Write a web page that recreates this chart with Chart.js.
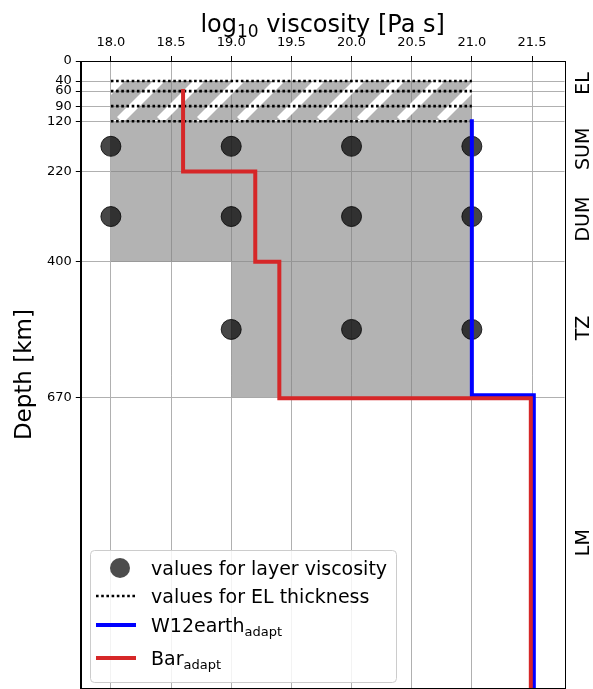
<!DOCTYPE html>
<html>
<head>
<meta charset="utf-8">
<title>Viscosity profile</title>
<script src="https://cdn.jsdelivr.net/npm/chart.js@4.4.1/dist/chart.umd.min.js"></script>
<style>
  html, body { margin: 0; padding: 0; background: #fff; overflow: hidden; }
  canvas { display: block; }
</style>
</head>
<body>
<canvas id="viscChart" width="593" height="700"></canvas>
<script>
// tick labels
const xTicks = [18.0, 18.5, 19.0, 19.5, 20.0, 20.5, 21.0, 21.5];
const yTicks = [0, 40, 60, 90, 120, 220, 400, 670];

// layer names and the depth where each name sits
const layerNames = ['EL', 'SUM', 'DUM', 'TZ', 'LM'];
const layerLabelDepth = [45, 175, 315, 532, 960];

// tested layer viscosities (dots) per layer
const sumVisc = [18, 19, 20, 21];
const dumVisc = [18, 19, 20, 21];
const tzVisc = [19, 20, 21];
const dotDepth = [170, 310, 535];

// tested EL thickness values
const elThickness = [40, 60, 90, 120];

// shaded parameter ranges
const umViscRange = [18, 21];
const umDepthRange = [40, 400];
const tzViscRange = [19, 21];
const tzDepthRange = [400, 670];

// W12earth_adapt step profile
const w12Visc = [21.0, 21.515];
const w12Depth = [120, 666, 1250];

// Bar_adapt step profile
const barVisc = [18.6, 19.2, 19.4, 21.49];
const barDepth = [60, 220, 400, 672, 1250];

const FONT = "'DejaVu Sans', 'Liberation Sans', sans-serif";
Chart.defaults.font.family = FONT;
Chart.defaults.color = '#000';

function steps(visc, depth) {
    const pts = [];
    visc.forEach((v, i) => {
        pts.push({ x: v, y: depth[i] });
        pts.push({ x: v, y: depth[i + 1] });
    });
    return pts;
}

// white "/" hatch
const tile = document.createElement('canvas');
tile.width = 40;
tile.height = 40;
const tctx = tile.getContext('2d');
tctx.strokeStyle = '#ffffff';
tctx.lineWidth = 8.5;
[-40, 0, 40].forEach(x0 => {
    tctx.beginPath();
    tctx.moveTo(x0, 40);
    tctx.lineTo(x0 + 40, 0);
    tctx.stroke();
});
const hatch = tctx.createPattern(tile, 'repeat');

const GREY = 'rgba(128,128,128,0.6)';
const BLUE = '#0000ff';
const RED = '#d62728';

const datasets = [];

// shaded boxes
datasets.push({
    data: [{ x: umViscRange[0], y: umDepthRange[0] }, { x: umViscRange[1], y: umDepthRange[0] }],
    fill: { value: umDepthRange[1] }, backgroundColor: GREY, borderWidth: 0, pointRadius: 0, order: 20
});
datasets.push({
    data: [{ x: tzViscRange[0], y: tzDepthRange[0] }, { x: tzViscRange[1], y: tzDepthRange[0] }],
    fill: { value: tzDepthRange[1] }, backgroundColor: GREY, borderWidth: 0, pointRadius: 0, order: 20
});
datasets.push({
    data: [{ x: umViscRange[0], y: elThickness[0] }, { x: umViscRange[1], y: elThickness[0] }],
    fill: { value: elThickness[elThickness.length - 1] }, backgroundColor: hatch, borderWidth: 0, pointRadius: 0, order: 19
});

// dotted EL thickness lines
elThickness.forEach(d => {
    datasets.push({
        data: [{ x: umViscRange[0], y: d }, { x: umViscRange[1], y: d }],
        borderColor: '#000', borderWidth: 2.6, borderDash: [2.6, 2.6], borderCapStyle: 'butt',
        pointRadius: 0, fill: false, order: 18
    });
});

// viscosity dots
const dots = [];
sumVisc.forEach(v => dots.push({ x: v, y: dotDepth[0] }));
dumVisc.forEach(v => dots.push({ x: v, y: dotDepth[1] }));
tzVisc.forEach(v => dots.push({ x: v, y: dotDepth[2] }));
datasets.push({
    data: dots, showLine: false, pointRadius: 10,
    pointBackgroundColor: 'rgba(0,0,0,0.72)', pointBorderColor: 'rgba(0,0,0,0.8)', pointBorderWidth: 1,
    order: 15
});

// profiles
datasets.push({
    data: steps(w12Visc, w12Depth), borderColor: BLUE, borderWidth: 4,
    borderCapStyle: 'square', borderJoinStyle: 'miter', pointRadius: 0, fill: false, order: 12
});
datasets.push({
    data: steps(barVisc, barDepth), borderColor: RED, borderWidth: 4,
    borderCapStyle: 'square', borderJoinStyle: 'miter', pointRadius: 0, fill: false, order: 10
});

function subText(ctx, parts, x, y, size) {
    // parts: [text, isSub]
    let cx = x;
    parts.forEach(([t, sub]) => {
        ctx.font = (sub ? Math.round(size * 0.7) : size) + 'px ' + FONT;
        ctx.fillText(t, cx, sub ? y + size * 0.22 : y);
        cx += ctx.measureText(t).width;
    });
}

function partsWidth(ctx, parts, size) {
    let w = 0;
    parts.forEach(([t, sub]) => {
        ctx.font = (sub ? Math.round(size * 0.7) : size) + 'px ' + FONT;
        w += ctx.measureText(t).width;
    });
    return w;
}

const decorations = {
    id: 'decorations',
    afterDraw(chart) {
        const ctx = chart.ctx;
        const a = chart.chartArea;
        const ys = chart.scales.y;
        ctx.save();

        // frame
        ctx.strokeStyle = '#000';
        ctx.lineWidth = 1;
        ctx.strokeRect(Math.round(a.left) + 0.5, Math.round(a.top) + 0.5,
            Math.round(a.right) - Math.round(a.left), Math.round(a.bottom) - Math.round(a.top));

        ctx.fillStyle = '#000';
        ctx.textBaseline = 'alphabetic';
        ctx.textAlign = 'left';

        // x title
        const tparts = [['log', false], ['10', true], [' viscosity [Pa s]', false]];
        const tw = partsWidth(ctx, tparts, 24);
        subText(ctx, tparts, (a.left + a.right) / 2 - tw / 2, 32, 24);

        // y title
        ctx.save();
        ctx.translate(25, (a.top + a.bottom) / 2);
        ctx.rotate(-Math.PI / 2);
        ctx.font = '23px ' + FONT;
        ctx.textAlign = 'center';
        ctx.textBaseline = 'middle';
        ctx.fillText('Depth [km]', 0, 0);
        ctx.restore();

        // layer names on the right
        layerNames.forEach((name, i) => {
            ctx.save();
            ctx.translate(584, ys.getPixelForValue(layerLabelDepth[i]));
            ctx.rotate(-Math.PI / 2);
            ctx.font = '19px ' + FONT;
            ctx.textAlign = 'center';
            ctx.textBaseline = 'middle';
            ctx.fillText(name, 0, 0);
            ctx.restore();
        });

        // legend
        const bx = 90.5, by = 550.5, bw = 306, bh = 132;
        ctx.beginPath();
        ctx.roundRect(bx, by, bw, bh, 4);
        ctx.fillStyle = 'rgba(255,255,255,0.85)';
        ctx.fill();
        ctx.strokeStyle = '#cccccc';
        ctx.stroke();

        const tx = 151;
        ctx.fillStyle = 'rgba(0,0,0,0.7)';
        ctx.beginPath();
        ctx.arc(120, 568, 10, 0, Math.PI * 2);
        ctx.fill();

        ctx.strokeStyle = '#000';
        ctx.lineWidth = 2.6;
        ctx.setLineDash([2.6, 2.6]);
        ctx.beginPath();
        ctx.moveTo(96, 596);
        ctx.lineTo(135, 596);
        ctx.stroke();
        ctx.setLineDash([]);

        ctx.lineWidth = 4;
        ctx.strokeStyle = BLUE;
        ctx.beginPath();
        ctx.moveTo(96, 625);
        ctx.lineTo(136, 625);
        ctx.stroke();
        ctx.strokeStyle = RED;
        ctx.beginPath();
        ctx.moveTo(96, 658);
        ctx.lineTo(136, 658);
        ctx.stroke();

        ctx.fillStyle = '#000';
        ctx.textBaseline = 'alphabetic';
        ctx.font = '19px ' + FONT;
        ctx.fillText('values for layer viscosity', tx, 575);
        ctx.fillText('values for EL thickness', tx, 603);
        subText(ctx, [['W12earth', false], ['adapt', true]], tx, 632, 19);
        subText(ctx, [['Bar', false], ['adapt', true]], tx, 665, 19);

        ctx.restore();
    }
};

new Chart(document.getElementById('viscChart'), {
    type: 'line',
    data: { datasets: datasets },
    options: {
        responsive: false,
        devicePixelRatio: 1,
        animation: false,
        events: [],
        layout: { padding: { left: 0, right: 28.5, top: 0, bottom: 9 } },
        plugins: { legend: { display: false }, tooltip: { enabled: false } },
        scales: {
            x: {
                type: 'linear', position: 'top', min: 17.75, max: 21.77,
                afterBuildTicks: s => { s.ticks = xTicks.map(v => ({ value: v })); },
                afterFit: s => { s.height = 61; },
                ticks: { autoSkip: false, maxRotation: 0, padding: 6, font: { size: 13 }, color: '#000',
                    callback: v => Number(v).toFixed(1) },
                grid: { color: '#b0b0b0', lineWidth: 1, tickLength: 5, tickColor: '#000' },
                border: { color: '#000', width: 1 }
            },
            y: {
                type: 'linear', reverse: true, min: 0, max: 1250,
                afterBuildTicks: s => { s.ticks = yTicks.map(v => ({ value: v })); },
                afterFit: s => { s.width = 80.8; },
                ticks: { autoSkip: false, padding: 4, font: { size: 13 }, color: '#000',
                    callback: v => String(v) },
                grid: { color: '#b0b0b0', lineWidth: 1, tickLength: 5, tickColor: '#000' },
                border: { color: '#000', width: 1 }
            }
        }
    },
    plugins: [decorations]
});
</script>
</body>
</html>
